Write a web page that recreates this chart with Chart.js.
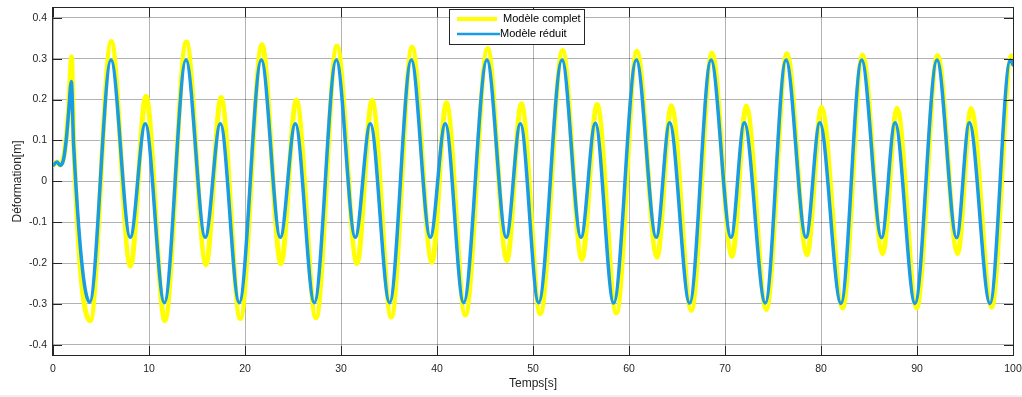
<!DOCTYPE html>
<html>
<head>
<meta charset="utf-8">
<script src="https://cdn.jsdelivr.net/npm/chart.js@4.4.1/dist/chart.umd.min.js"></script>
<style>
  html, body { margin: 0; padding: 0; background: #f0f0f0; }
  #wrap { position: relative; width: 1022px; height: 395px; background: #ffffff; }
</style>
</head>
<body>
<div id="wrap"><canvas id="plotDeformation"></canvas></div>
<script>
const seriesLabels = ["Modèle complet", "Modèle réduit"];

const tempsComplet = [0, 0.41, 0.76, 1.11, 1.39, 1.63, 1.8, 1.93, 2.05, 2.15, 3.88,
  6.07, 8.07, 9.68, 11.65,
  13.89, 15.94, 17.5, 19.51,
  21.77, 23.75, 25.34, 27.4,
  29.58, 31.67, 33.23, 35.24,
  37.4, 39.48, 40.97, 42.95,
  45.27, 47.29, 48.78, 50.76,
  53.08, 55.1, 56.67, 58.68,
  60.83, 62.92, 64.41, 66.49,
  68.65, 70.73, 72.22, 74.3,
  76.46, 78.54, 80.06, 82.25,
  84.33, 86.42, 87.92, 89.96,
  92.15, 94.23, 95.63, 97.77,
  99.85, 100];
const deformComplet = [0.039, 0.047, 0.04, 0.058, 0.11, 0.18, 0.26, 0.304, 0.2, 0.1, -0.341,
  0.342, -0.208, 0.208, -0.341,
  0.341, -0.204, 0.205, -0.336,
  0.334, -0.202, 0.199, -0.334,
  0.331, -0.201, 0.198, -0.332,
  0.328, -0.198, 0.192, -0.327,
  0.324, -0.194, 0.19, -0.324,
  0.32, -0.191, 0.188, -0.322,
  0.318, -0.186, 0.185, -0.316,
  0.314, -0.184, 0.184, -0.314,
  0.312, -0.18, 0.181, -0.31,
  0.309, -0.177, 0.179, -0.31,
  0.308, -0.177, 0.178, -0.308,
  0.307, 0.305];

const tempsReduit = [0, 0.41, 0.76, 1.11, 1.39, 1.63, 1.91, 2.15, 3.82,
  6.04, 8.05, 9.61, 11.6,
  13.85, 15.86, 17.43, 19.4,
  21.7, 23.68, 25.24, 27.22,
  29.51, 31.49, 33.05, 35.06,
  37.32, 39.3, 40.86, 42.77,
  45.2, 47.22, 48.68, 50.58,
  53.02, 55.0, 56.49, 58.4,
  60.76, 62.84, 64.23, 66.31,
  68.54, 70.63, 72.01, 74.2,
  76.35, 78.44, 79.87, 82.08,
  84.23, 86.31, 87.71, 89.79,
  92.08, 94.13, 95.45, 97.6,
  99.72, 100];
const deformReduit = [0.039, 0.047, 0.039, 0.055, 0.104, 0.169, 0.244, 0.088, -0.296,
  0.297, -0.137, 0.141, -0.297,
  0.297, -0.137, 0.141, -0.297,
  0.297, -0.137, 0.141, -0.297,
  0.297, -0.137, 0.141, -0.297,
  0.297, -0.137, 0.141, -0.297,
  0.297, -0.137, 0.141, -0.297,
  0.297, -0.137, 0.142, -0.298,
  0.297, -0.137, 0.143, -0.298,
  0.297, -0.137, 0.143, -0.298,
  0.297, -0.137, 0.143, -0.299,
  0.297, -0.138, 0.143, -0.299,
  0.297, -0.138, 0.143, -0.299,
  0.297, 0.285];

const xTicks = [0, 10, 20, 30, 40, 50, 60, 70, 80, 90, 100];
const yTicks = [-0.4, -0.3, -0.2, -0.1, 0, 0.1, 0.2, 0.3, 0.4];

const axisColor = "#262626";
const gridColor = "rgba(0,0,0,0.3)";
const fontFamily = "'Liberation Sans', Arial, Helvetica, sans-serif";

const toPoints = (xs, ys) => xs.map((x, i) => ({ x: x, y: ys[i] }));

// MATLAB style box with inward tick marks
const axesBox = {
  id: "axesBox",
  afterDatasetsDraw(chart) {
    const { ctx, chartArea: a, scales } = chart;
    const len = 9;
    ctx.save();
    ctx.strokeStyle = axisColor;
    ctx.lineWidth = 1;
    ctx.beginPath();
    xTicks.forEach((v) => {
      const px = Math.round(scales.x.getPixelForValue(v)) + 0.5;
      ctx.moveTo(px, a.bottom);
      ctx.lineTo(px, a.bottom - len);
      ctx.moveTo(px, a.top);
      ctx.lineTo(px, a.top + len);
    });
    yTicks.forEach((v) => {
      const py = Math.round(scales.y.getPixelForValue(v)) + 0.5;
      ctx.moveTo(a.left, py);
      ctx.lineTo(a.left + len, py);
      ctx.moveTo(a.right, py);
      ctx.lineTo(a.right - len, py);
    });
    ctx.stroke();
    ctx.strokeRect(a.left - 0.5, a.top - 0.5, a.right - a.left + 1, a.bottom - a.top + 1);
    ctx.restore();
  },
};

const boxLegend = {
  id: "boxLegend",
  afterDraw(chart) {
    const { ctx } = chart;
    const ds = chart.data.datasets;
    const rows = [
      { y: 19, x2: 497, tx: 503 },
      { y: 34, x2: 500, tx: 500 },
    ];
    ctx.save();
    ctx.fillStyle = "#ffffff";
    ctx.fillRect(449.5, 9.5, 135, 35);
    ctx.strokeStyle = axisColor;
    ctx.lineWidth = 1;
    ctx.strokeRect(449.5, 9.5, 135, 35);
    ctx.font = "11px " + fontFamily;
    ctx.textBaseline = "middle";
    ctx.textAlign = "left";
    rows.forEach((r, i) => {
      ctx.strokeStyle = ds[i].borderColor;
      ctx.lineWidth = ds[i].borderWidth - 1;
      ctx.beginPath();
      ctx.moveTo(457, r.y);
      ctx.lineTo(r.x2, r.y);
      ctx.stroke();
      ctx.fillStyle = "#000000";
      ctx.fillText(ds[i].label, r.tx, r.y);
    });
    ctx.restore();
  },
};

const ctx = document.getElementById("plotDeformation");
new Chart(ctx, {
  type: "line",
  data: {
    datasets: [
      {
        label: seriesLabels[0],
        data: toPoints(tempsComplet, deformComplet),
        borderColor: "#ffff00",
        borderWidth: 5,
        pointRadius: 0,
        fill: false,
        cubicInterpolationMode: "monotone",
        borderCapStyle: "round",
        borderJoinStyle: "round",
        order: 2,
      },
      {
        label: seriesLabels[1],
        data: toPoints(tempsReduit, deformReduit),
        borderColor: "#1a9be8",
        borderWidth: 3.5,
        pointRadius: 0,
        fill: false,
        cubicInterpolationMode: "monotone",
        borderCapStyle: "round",
        borderJoinStyle: "round",
        order: 1,
      },
    ],
  },
  options: {
    responsive: true,
    maintainAspectRatio: false,
    animation: false,
    events: [],
    layout: { padding: { top: 8, right: 9, left: 0, bottom: 0 } },
    plugins: {
      legend: { display: false },
      tooltip: { enabled: false },
    },
    scales: {
      x: {
        type: "linear",
        min: 0,
        max: 100,
        afterFit: (scale) => {
          scale.height = 40;
          scale.paddingLeft = 0;
          scale.paddingRight = 0;
        },
        afterBuildTicks: (scale) => { scale.ticks = xTicks.map((v) => ({ value: v })); },
        ticks: {
          padding: 8,
          color: axisColor,
          font: { family: fontFamily, size: 10.5 },
          maxRotation: 0,
        },
        grid: { color: gridColor, drawTicks: false },
        border: { display: false },
        title: {
          display: true,
          text: "Temps[s]",
          color: axisColor,
          font: { family: fontFamily, size: 12 },
          padding: { top: 0, bottom: 3.8 },
        },
      },
      y: {
        min: -0.425,
        max: 0.424,
        afterFit: (scale) => {
          scale.width = 53;
          scale.paddingTop = 0;
          scale.paddingBottom = 0;
        },
        afterBuildTicks: (scale) => { scale.ticks = yTicks.map((v) => ({ value: v })); },
        ticks: {
          padding: 6,
          color: axisColor,
          font: { family: fontFamily, size: 10.5 },
          callback: (v) => {
            const r = Math.round(v * 10) / 10;
            return r === 0 ? "0" : String(r);
          },
        },
        grid: { color: gridColor, drawTicks: false },
        border: { display: false },
        title: {
          display: true,
          text: "Déformation[m]",
          color: axisColor,
          font: { family: fontFamily, size: 12 },
          padding: { top: 10, bottom: 0 },
        },
      },
    },
  },
  plugins: [axesBox, boxLegend],
});
</script>
</body>
</html>
